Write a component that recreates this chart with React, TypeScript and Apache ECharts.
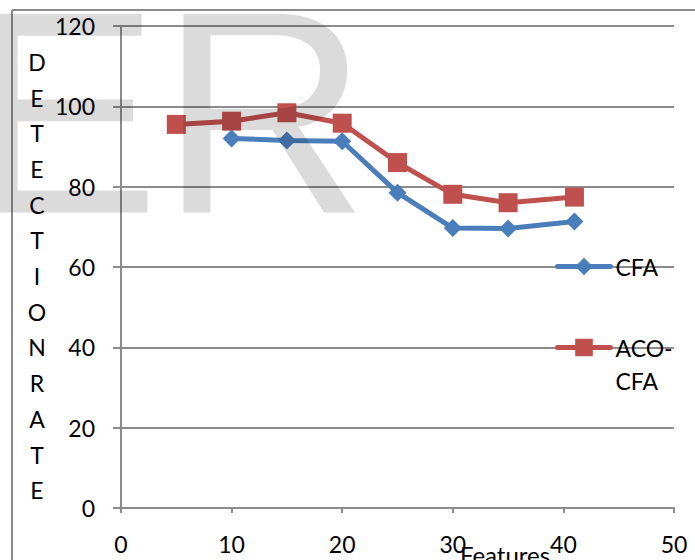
import React, { useEffect, useRef } from "react";
import * as echarts from "echarts";

const xTicks = [0, 10, 20, 30, 40, 50];
const yTicks = [0, 20, 40, 60, 80, 100, 120];
const cfaX = [10, 15, 20, 25, 30, 35, 41];
const cfaY = [92, 91.5, 91.3, 78.5, 69.7, 69.6, 71.3];
const acoX = [5, 10, 15, 20, 25, 30, 35, 41];
const acoY = [95.5, 96.3, 98.4, 95.8, 86, 78.1, 76, 77.4];
const seriesNames = ["CFA", "ACO-CFA"];
const yTitle = "DETECTIONRATE";
const xTitle = "Features";
const watermark = "ER";

const FONT = "Lato";
const FS = 23;
const GRID = "#8c8c8c";

export default function App() {
  const ref = useRef<HTMLDivElement>(null);
  useEffect(() => {
    if (!ref.current) return;
    const chart = echarts.init(ref.current, undefined, { renderer: "svg" });
    const zip = (xs: number[], ys: number[]) => xs.map((x, i) => [x, ys[i]]);
    chart.setOption({
      animation: false,
      backgroundColor: "#ffffff",
      textStyle: { fontFamily: FONT },
      grid: { left: 121, right: 21, top: 26, bottom: 52, containLabel: false },
      xAxis: {
        type: "value",
        min: xTicks[0],
        max: xTicks[xTicks.length - 1],
        interval: 10,
        axisLine: { show: true, lineStyle: { color: GRID, width: 2 } },
        axisTick: { show: true, length: 5, lineStyle: { color: GRID, width: 2 } },
        splitLine: { show: false },
        axisLabel: { color: "#000", fontSize: FS, fontFamily: FONT, margin: 24 },
      },
      yAxis: {
        type: "value",
        min: yTicks[0],
        max: yTicks[yTicks.length - 1],
        interval: 20,
        axisLine: { show: true, lineStyle: { color: GRID, width: 2 } },
        axisTick: { show: true, length: 8, lineStyle: { color: GRID, width: 2 } },
        splitLine: { show: true, lineStyle: { color: GRID, width: 2 } },
        axisLabel: { color: "#000", fontSize: FS, fontFamily: FONT, margin: 26 },
      },
      legend: [
        {
          data: [seriesNames[0]],
          left: 555,
          top: 255,
          padding: 0,
          itemWidth: 53,
          itemHeight: 22,
          itemGap: 0,
          lineStyle: { width: 5, cap: "round" },
          textStyle: { color: "#000", fontSize: FS, fontFamily: FONT },
        },
        {
          data: [seriesNames[1]],
          left: 555,
          top: 298,
          padding: 0,
          itemWidth: 53,
          itemHeight: 22,
          itemGap: 0,
          lineStyle: { width: 5, cap: "round" },
          formatter: (n: string) => "\n" + n.replace("-", "-\n"),
          textStyle: {
            color: "#000",
            fontSize: FS,
            fontFamily: FONT,
            lineHeight: 33,
          },
        },
      ],
      series: [
        {
          name: seriesNames[0],
          type: "line",
          data: zip(cfaX, cfaY),
          symbol: "diamond",
          symbolSize: 18,
          color: "#4a7ebb",
          lineStyle: { color: "#4a7ebb", width: 5, cap: "round" },
          itemStyle: { color: "#4a7ebb" },
          z: 3,
        },
        {
          name: seriesNames[1],
          type: "line",
          data: zip(acoX, acoY),
          symbol: "rect",
          symbolSize: 19,
          color: "#c0504d",
          lineStyle: { color: "#c0504d", width: 5, cap: "round" },
          itemStyle: { color: "#c0504d" },
          z: 2,
        },
      ],
      graphic: [
        {
          type: "line",
          shape: { x1: 12, y1: 10, x2: 695, y2: 10 },
          style: { stroke: GRID, lineWidth: 2 },
        },
        {
          type: "line",
          shape: { x1: 12, y1: 10, x2: 12, y2: 560 },
          style: { stroke: GRID, lineWidth: 2 },
        },
        {
          type: "text",
          x: 37,
          y: 44,
          style: {
            text: yTitle.split("").join("\n"),
            font: `${FS}px ${FONT}`,
            fill: "#000",
            align: "center",
            verticalAlign: "top",
            lineHeight: 35.7,
          },
        },
        {
          type: "text",
          x: 505,
          y: 554,
          style: {
            text: xTitle,
            font: `${FS + 1}px ${FONT}`,
            fill: "#000",
            align: "center",
            verticalAlign: "middle",
          },
        },
        {
          type: "text",
          x: -33,
          y: 112,
          z: 100,
          silent: true,
          style: {
            text: watermark,
            font: `289px "Liberation Sans"`,
            fill: "rgba(0,0,0,0.14)",
            align: "left",
            verticalAlign: "middle",
          },
        },
      ],
    });
    return () => chart.dispose();
  }, []);
  return (
    <div
      ref={ref}
      style={{ position: "fixed", left: 0, top: 0, width: 695, height: 560 }}
    />
  );
}
